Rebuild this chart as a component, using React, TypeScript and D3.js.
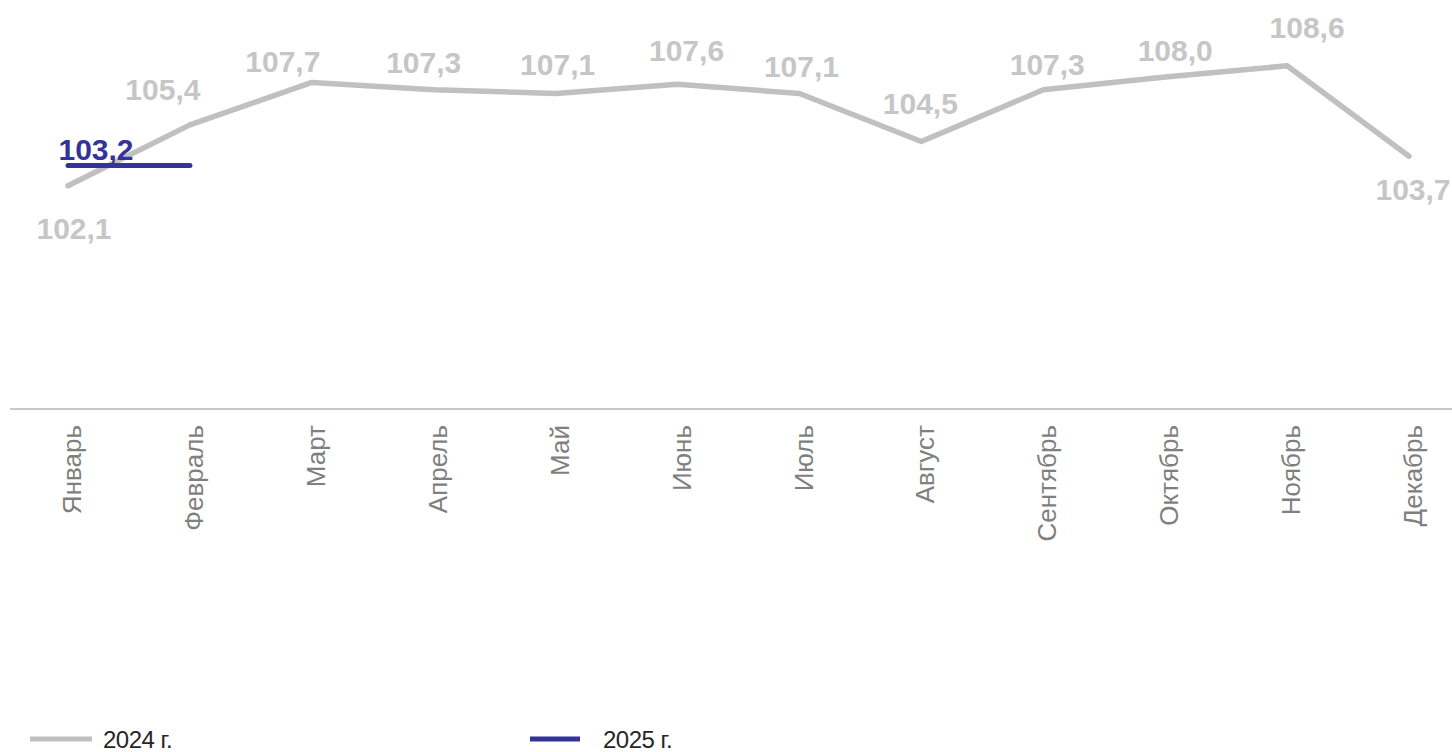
import React from "react";
import * as d3 from "d3";

const months = ["Январь", "Февраль", "Март", "Апрель", "Май", "Июнь", "Июль", "Август", "Сентябрь", "Октябрь", "Ноябрь", "Декабрь"];
const values2024 = [102.1, 105.4, 107.7, 107.3, 107.1, 107.6, 107.1, 104.5, 107.3, 108.0, 108.6, 103.7];
const values2025 = [103.2, 103.2];
const labels2025 = ["103,2", ""];

// hand placed label offsets, as in the source chart
const labelDx = [6, -27, -29, -10, 2, 9, 2, -1, 4, 10, 20, 4];
const labelDy = [53, -25, -10, -17, -19, -23, -17, -27, -15, -16, -28, 44];

const W = 1452;
const H = 752;
const GRAY = "#c0c0c0";
const BLUE = "#333399";
const fmt = (v: number) => v.toFixed(1).replace(".", ",");

const App = () => {
  const x = d3.scalePoint<string>().domain(months).range([68, 1409]);
  const y = d3.scaleLinear().domain([90, 110]).range([409, 40]);

  const line = d3
    .line<number>()
    .x((d, i) => x(months[i]) as number)
    .y(d => y(d));

  return (
    <svg width={W} height={H} style={{ position: "absolute", left: 0, top: 0 }} fontFamily="'Liberation Sans', Arial, sans-serif">
      <line x1={10} x2={W} y1={y(90)} y2={y(90)} stroke="#c8c8c8" strokeWidth={2} />
      {months.map(m => (
        <text
          key={m}
          transform={`translate(${(x(m) as number) + 4},${y(90) + 16}) rotate(-90)`}
          textAnchor="end"
          dy="0.35em"
          fontSize={26}
          fill="#7f7f7f"
        >
          {m}
        </text>
      ))}
      <path d={line(values2024) || ""} fill="none" stroke={GRAY} strokeWidth={5.5} strokeLinecap="round" strokeLinejoin="round" />
      <path d={line(values2025) || ""} fill="none" stroke={BLUE} strokeWidth={5} strokeLinecap="round" />
      {values2024.map((v, i) => (
        <text
          key={i}
          x={(x(months[i]) as number) + labelDx[i]}
          y={y(v) + labelDy[i]}
          textAnchor="middle"
          fontSize={30}
          fontWeight="bold"
          fill="#c6c6c6"
        >
          {fmt(v)}
        </text>
      ))}
      {values2025.map((v, i) =>
        labels2025[i] ? (
          <text
            key={i}
            x={(x(months[i]) as number) + 28}
            y={y(v) - 5}
            textAnchor="middle"
            fontSize={30}
            fontWeight="bold"
            fill={BLUE}
          >
            {labels2025[i]}
          </text>
        ) : null
      )}
      <g transform="translate(30,739)">
        <line x1={0} x2={62} y1={0} y2={0} stroke={GRAY} strokeWidth={5} />
        <text x={73} y={9} fontSize={24} fill="#262626" letterSpacing={-0.5}>2024 г.</text>
      </g>
      <g transform="translate(530,739)">
        <line x1={0} x2={50} y1={0} y2={0} stroke={BLUE} strokeWidth={5} />
        <text x={73} y={9} fontSize={24} fill="#262626" letterSpacing={-0.5}>2025 г.</text>
      </g>
    </svg>
  );
};

export default App;
